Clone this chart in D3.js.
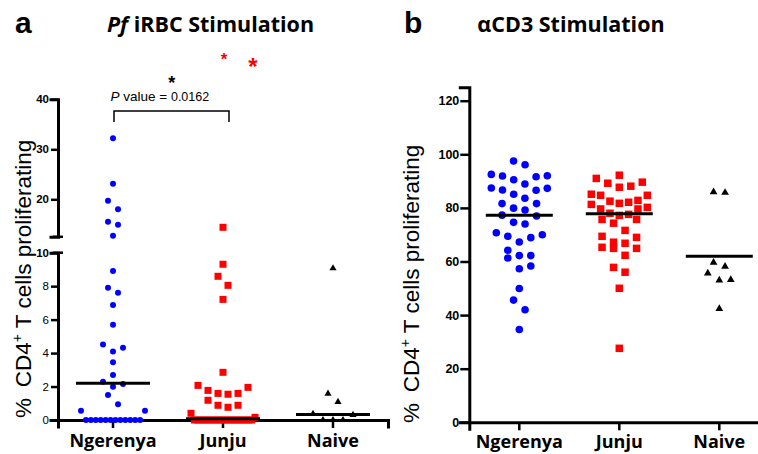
<!DOCTYPE html>
<html><head><meta charset="utf-8">
<script src="https://cdn.jsdelivr.net/npm/d3@7"></script>
<style>body{margin:0;background:#fff}svg{display:block}</style>
</head><body>
<svg id="chart" width="758" height="454"></svg>
<script>
// ---------- DATA ----------
const categories = ["Ngerenya", "Junju", "Naive"];
// Panel a: Pf iRBC stimulation (% CD4+ T cells proliferating)
const iRBC_Ngerenya = [0,0,0,0,0,0,0,0,0,0,0,0, 0.56,0.56,0.94,1.49,1.99,2.15,2.29,2.69,3.45,4.1,4.32,4.52,5.7,6.87,7.6,7.9,8.9,12.7,14.9,15.5,18.0,19.7,23.1,32.2];
const iRBC_Junju = [0,0,0,0,0,0,0,0,0,0,0,0,0,0,0,0,0,0, 0.16,0.40,0.76,0.88,0.88,1.18,1.54,1.59,1.59,1.77,1.95,2.07,2.85,7.21,8.05,8.59,9.31,14.4];
const iRBC_Naive = [0,0,0,0.30,0.36,1.08,1.57,9.07];
const iRBC_lines = [2.2, 0.08, 0.33];
// Panel b: aCD3 stimulation
const aCD3_Ngerenya = [97.5,96.1,92.5,91.9,91.6,92.0,90.5,88.9,87.3,86.6,86.7,87.4,85.1,83.6,81.6,81.6,79.9,79.2,77.0,77.3,74.0,74.6,70.0,68.9,67.3,69.4,70.7,64.2,62.2,61.3,62.2,58.3,57.3,49.9,45.6,42.0,34.6];
const aCD3_Junju = [92.2,88.1,89.6,89.2,91.0,87.7,85.1,84.7,84.7,82.8,82.1,81.3,80.2,81.7,82.5,79.6,79.6,78.0,77.2,75.7,75.7,77.6,74.3,71.6,69.0,69.4,66.8,65.3,64.9,67.2,64.9,62.3,57.8,56.0,50.0,27.6];
const aCD3_Naive = [85.9,85.7,58.1,59.6,55.6,53.2,53.0,42.4];
const aCD3_lines = [77.3, 77.8, 62.0];
const ticksA_top = [20, 30, 40];
const ticksA_bottom = [0, 2, 4, 6, 8, 10];
const ticksB = [0, 20, 40, 60, 80, 100, 120];
const pText = "0.0162";

// ---------- HELPERS ----------
const svg = d3.select("#chart");
const BLUE = "#0000ff", RED = "#ff0000", BLACK = "#000";
const SANS = "Liberation Sans, Arial, sans-serif";
const FONT_BOLD = "Open Sans, sans-serif";

function swarm(values, yFn, binH, step, maxSpan) {
  const pts = values.map(v => ({v, y: yFn(v)})).sort((a, b) => b.y - a.y || a.v - b.v);
  let i = 0;
  while (i < pts.length) {
    const start = pts[i].y;
    const row = [];
    while (i < pts.length && start - pts[i].y <= binH) { row.push(pts[i]); i++; }
    const n = row.length;
    const s = n > 1 ? Math.min(step, maxSpan / (n - 1)) : 0;
    row.forEach((p, k) => {
      let slot;
      if (n % 2 === 1) { const m = Math.ceil(k / 2); slot = k === 0 ? 0 : (k % 2 === 1 ? m : -m); }
      else { const m = Math.floor(k / 2) + 0.5; slot = k % 2 === 0 ? m : -m; }
      p.dx = slot * s;
    });
  }
  return pts;
}

function drawPoints(g, pts, cx, kind, size, color) {
  const sel = g.append("g");
  if (kind === "circle") {
    sel.selectAll("circle").data(pts).join("circle")
      .attr("cx", d => cx + d.dx).attr("cy", d => d.y).attr("r", size).attr("fill", color);
  } else if (kind === "square") {
    sel.selectAll("rect").data(pts).join("rect")
      .attr("x", d => cx + d.dx - size / 2).attr("y", d => d.y - size / 2)
      .attr("width", size).attr("height", size).attr("fill", color);
  } else {
    const sym = d3.symbol(d3.symbolTriangle).size(size);
    sel.selectAll("path").data(pts).join("path")
      .attr("d", sym).attr("transform", d => `translate(${cx + d.dx},${d.y})`).attr("fill", color);
  }
}

function styleAxis(g, sw) {
  g.select(".domain").attr("stroke", BLACK).attr("stroke-width", sw).attr("stroke-linecap", "square");
  g.selectAll(".tick line").attr("stroke", BLACK).attr("stroke-width", 2.5);
  g.selectAll(".tick text").attr("fill", BLACK);
}

function yTitle(g, x, y0) {
  const t = g.append("text").attr("transform", `translate(${x},${y0}) rotate(-90)`)
    .attr("font-family", SANS).attr("font-size", 22.5).attr("fill", BLACK);
  t.append("tspan").text("%\u2009 CD4");
  t.append("tspan").text("+").attr("font-size", 14).attr("dy", -8.5);
  t.append("tspan").text(" T cells proliferating").attr("dy", 8.5);
}

// ---------- PANEL A ----------
const xA = d3.scaleBand().domain(categories).range([58, 388]);
const yAb = d3.scaleLinear().domain([0, 10]).range([420, 252.7]);
const yAt = d3.scaleLinear().domain([12.5, 40]).range([236.8, 99.3]);
const yA = v => v <= 10 ? yAb(v) : yAt(v);
const gA = svg.append("g");

const axA = gA.append("g").attr("transform", "translate(0,420)")
  .call(d3.axisBottom(xA).tickSizeOuter(0).tickSize(7).tickPadding(7));
styleAxis(axA, 3);
axA.selectAll(".tick text").attr("font-family", FONT_BOLD).attr("font-weight", 700).attr("font-size", 18);
axA.selectAll(".tick line").attr("transform", "translate(0,1)");

const ayb = gA.append("g").attr("transform", "translate(58,0)")
  .call(d3.axisLeft(yAb).tickValues(ticksA_bottom).tickSizeOuter(0).tickSize(7).tickPadding(2));
styleAxis(ayb, 3);
ayb.selectAll(".tick text").attr("font-family", SANS)
  .attr("font-size", 11.5).attr("font-weight", d => d === 10 ? 700 : 400);
const ayt = gA.append("g").attr("transform", "translate(58,0)")
  .call(d3.axisLeft(yAt).tickValues(ticksA_top).tickSizeOuter(0).tickSize(7).tickPadding(2));
styleAxis(ayt, 3);
ayt.selectAll(".tick text").attr("font-family", SANS).attr("font-size", 11.5).attr("font-weight", 700);
[yAt(12.5), yAb(10)].forEach(y => gA.append("line").attr("x1", 53).attr("x2", 63)
  .attr("y1", y).attr("y2", y).attr("stroke", BLACK).attr("stroke-width", 2.5));

const seriesA = [iRBC_Ngerenya, iRBC_Junju, iRBC_Naive];
const kinds = ["circle", "square", "triangle"];
const colors = [BLUE, RED, BLACK];
const sizesA = [3, 7, 22];
seriesA.forEach((vals, i) => {
  const cx = xA(categories[i]) + xA.bandwidth() / 2;
  drawPoints(gA, swarm(vals, yA, 10, 10, 64), cx, kinds[i], sizesA[i], colors[i]);
});
iRBC_lines.forEach((m, i) => {
  const cx = xA(categories[i]) + xA.bandwidth() / 2;
  gA.append("line").attr("x1", cx - 37).attr("x2", cx + 37).attr("y1", yA(m)).attr("y2", yA(m))
    .attr("stroke", BLACK).attr("stroke-width", 3);
});
yTitle(gA, 30.5, 418);

const bx1 = xA(categories[0]) + xA.bandwidth() / 2 + 1, bx2 = xA(categories[1]) + xA.bandwidth() / 2 + 6;
gA.append("path").attr("d", `M${bx1},122V111H${bx2}V122`).attr("fill", "none")
  .attr("stroke", BLACK).attr("stroke-width", 1.5);
const pt = gA.append("text").attr("x", 110.5).attr("y", 101)
  .attr("font-family", SANS).attr("font-size", 13.5).attr("fill", BLACK);
pt.append("tspan").text("P").attr("font-style", "italic");
pt.append("tspan").text(" value = ");
pt.append("tspan").text(pText).attr("font-size", 12.5);
gA.append("text").attr("x", 171.7).attr("y", 89).attr("text-anchor", "middle")
  .attr("font-family", SANS).attr("font-weight", 700).attr("font-size", 18).text("*");
gA.append("text").attr("x", 224).attr("y", 64.5).attr("text-anchor", "middle").attr("fill", RED)
  .attr("font-family", SANS).attr("font-weight", 700).attr("font-size", 17).text("*");
gA.append("text").attr("x", 253).attr("y", 75).attr("text-anchor", "middle").attr("fill", RED)
  .attr("font-family", SANS).attr("font-weight", 700).attr("font-size", 24).text("*");

svg.append("text").attr("x", 15).attr("y", 32.5).attr("font-family", SANS)
  .attr("font-weight", 700).attr("font-size", 30).text("a");
const tA = svg.append("text").attr("x", 210.5).attr("y", 32.3).attr("text-anchor", "middle")
  .attr("font-family", FONT_BOLD).attr("font-weight", 700).attr("font-size", 21.5);
tA.append("tspan").text("Pf").attr("font-style", "italic");
tA.append("tspan").text(" iRBC Stimulation");

// ---------- PANEL B ----------
const xB = d3.scaleBand().domain(categories).range([469.3, 769.3]);
const yB = d3.scaleLinear().domain([0, 125]).range([422.3, 87.3]);
const gB = svg.append("g");
const axB = gB.append("g").attr("transform", "translate(0,422.3)")
  .call(d3.axisBottom(xB).tickSizeOuter(0).tickSize(7).tickPadding(5.5));
styleAxis(axB, 3);
axB.selectAll(".tick text").attr("font-family", FONT_BOLD).attr("font-weight", 700).attr("font-size", 18);
axB.selectAll(".tick line").attr("transform", "translate(0,1)");
const ayB = gB.append("g").attr("transform", "translate(469.3,0)")
  .call(d3.axisLeft(yB).tickValues(ticksB).tickSizeOuter(0).tickSize(9).tickPadding(1));
styleAxis(ayB, 3);
ayB.selectAll(".tick text").attr("font-family", SANS).attr("font-size", 12.5).attr("font-weight", 700);

const seriesB = [aCD3_Ngerenya, aCD3_Junju, aCD3_Naive];
const sizesB = [3.8, 7.5, 26];
seriesB.forEach((vals, i) => {
  const cx = xB(categories[i]) + xB.bandwidth() / 2;
  drawPoints(gB, swarm(vals, yB, 11, 11.5, 56), cx, kinds[i], sizesB[i], colors[i]);
});
aCD3_lines.forEach((m, i) => {
  const cx = xB(categories[i]) + xB.bandwidth() / 2;
  gB.append("line").attr("x1", cx - 33.5).attr("x2", cx + 33.5).attr("y1", yB(m)).attr("y2", yB(m))
    .attr("stroke", BLACK).attr("stroke-width", 3);
});
yTitle(gB, 418.5, 423);

svg.append("text").attr("x", 404).attr("y", 32.5).attr("font-family", SANS)
  .attr("font-weight", 700).attr("font-size", 30).text("b");
svg.append("text").attr("x", 571).attr("y", 32.3).attr("text-anchor", "middle")
  .attr("font-family", FONT_BOLD).attr("font-weight", 700).attr("font-size", 21.5).text("\u03B1CD3 Stimulation");
</script>
</body></html>
